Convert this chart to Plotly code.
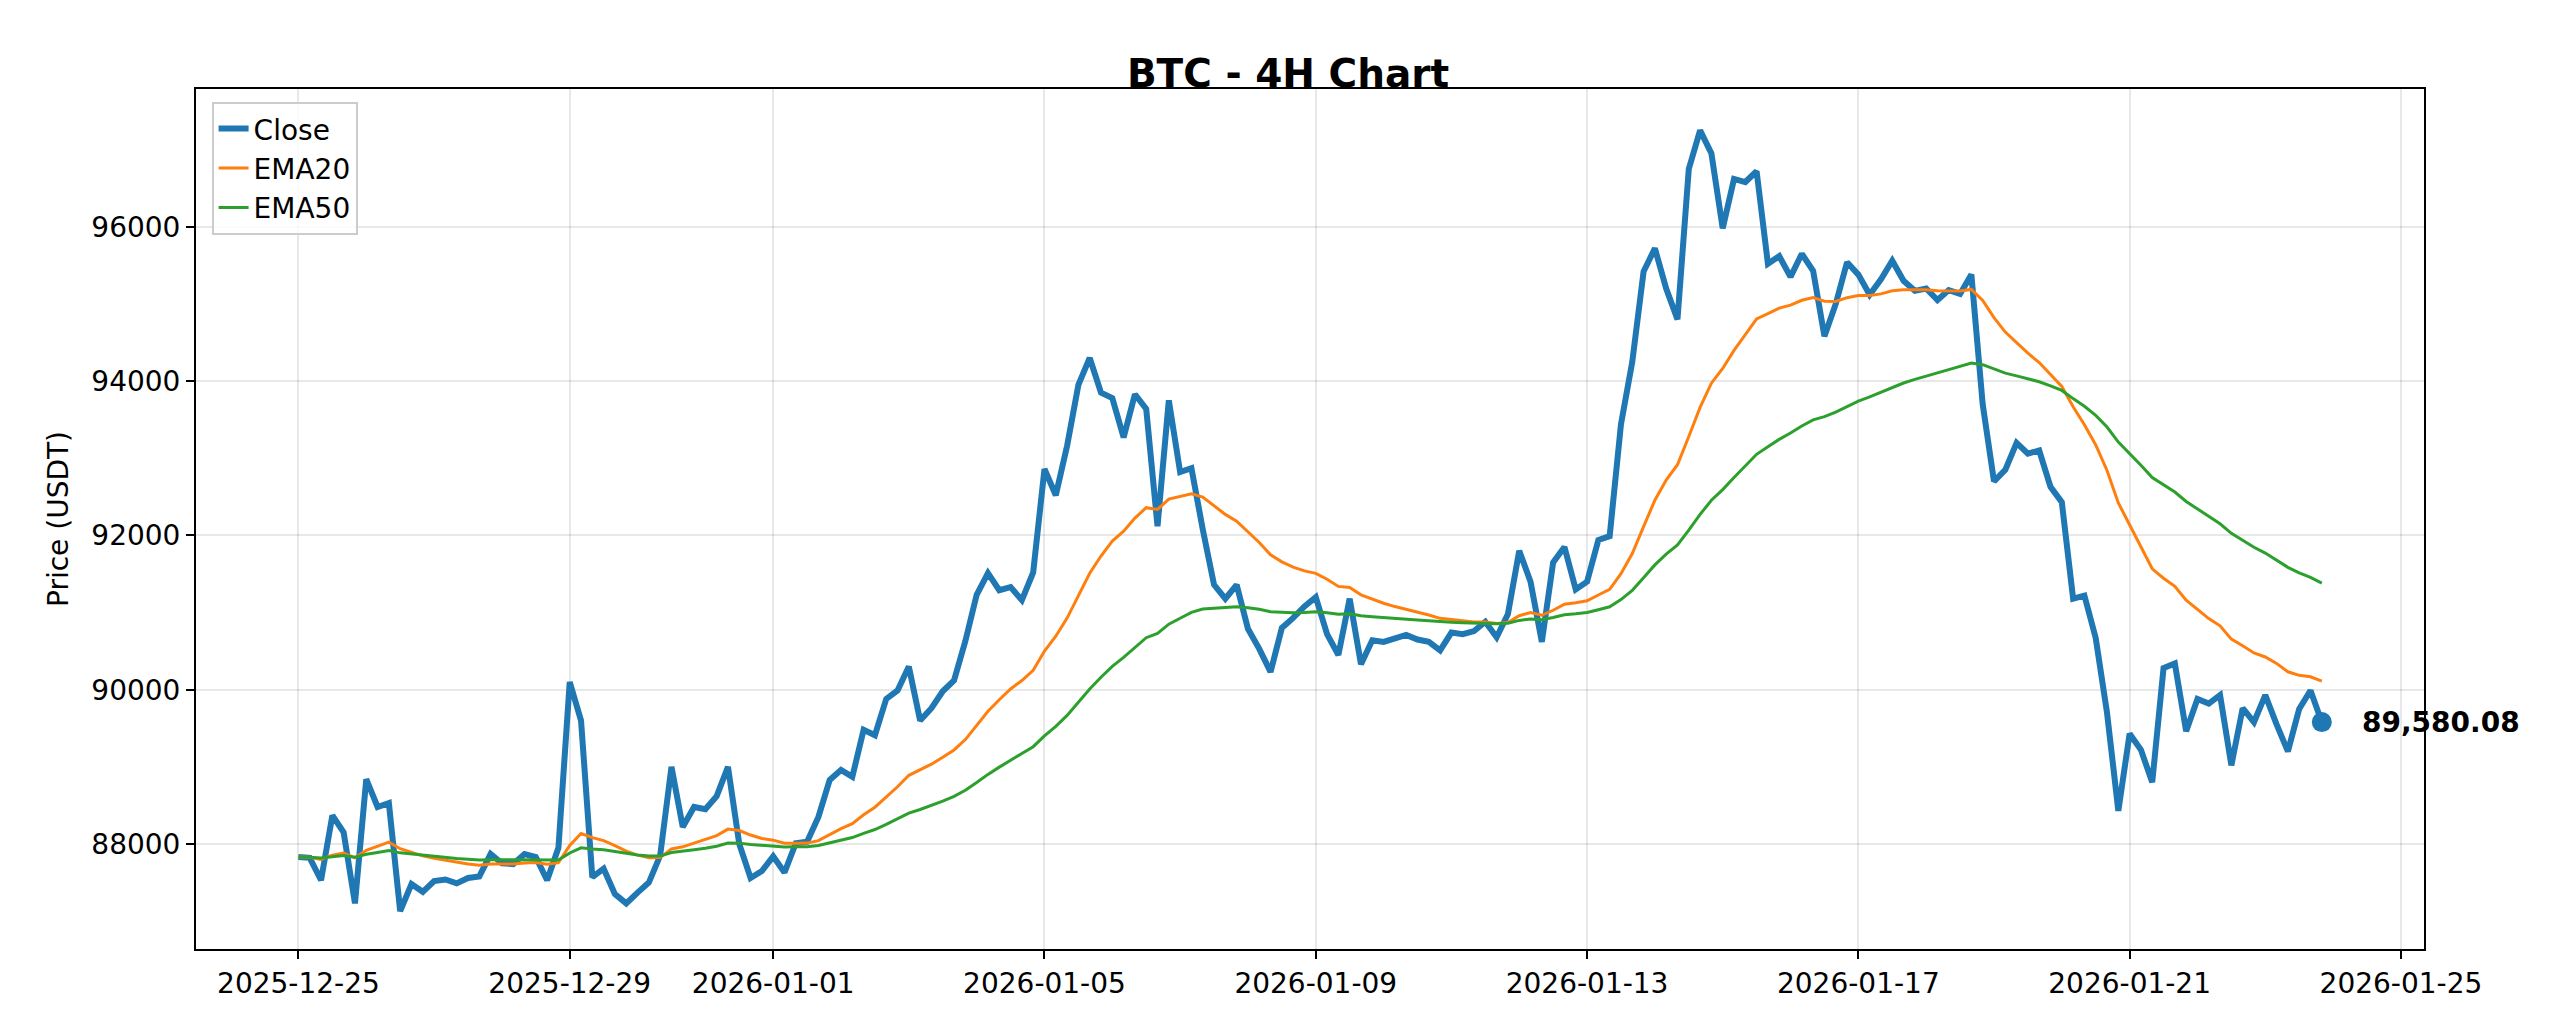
import pandas as pd
import plotly.graph_objects as go

# 4H closes, 2025-12-25 00:00 onward
close = [
    87830, 87820, 87530, 88370, 88150, 87230, 88840, 88480, 88530, 87130,
    87480, 87380, 87520, 87540, 87490, 87560, 87580, 87870, 87750, 87740,
    87870, 87830, 87530, 87950, 90100, 89600, 87570, 87680, 87350, 87230,
    87370, 87500, 87850, 89000, 88220, 88480, 88450, 88620, 89000, 88000,
    87560, 87650, 87840, 87630, 88010, 88030, 88350, 88830, 88960, 88870,
    89480, 89410, 89880, 89990, 90300, 89600, 89760, 89980, 90120, 90630,
    91230, 91510, 91290, 91330, 91160, 91520, 92860, 92520, 93160, 93950,
    94300, 93850, 93780, 93270, 93830, 93640, 92120, 93750, 92820, 92870,
    92080, 91360, 91180, 91360, 90790, 90530, 90230, 90800, 90930, 91080,
    91200, 90720, 90450, 91180, 90330, 90640, 90620, 90670, 90710, 90650,
    90620, 90510, 90740, 90720, 90760, 90880, 90680, 90980, 91800, 91400,
    90620, 91650, 91850, 91300, 91400, 91940, 91990, 93440, 94250, 95420,
    95720, 95200, 94800, 96750, 97250, 96950, 95980, 96620, 96580, 96720,
    95520, 95620, 95350, 95650, 95430, 94580, 95000, 95540, 95380, 95120,
    95320, 95560, 95300, 95170, 95200, 95050, 95180, 95130, 95380, 93700,
    92700, 92850, 93200, 93060, 93100, 92630, 92430, 91180, 91220, 90670,
    89700, 88430, 89430, 89220, 88800, 90280, 90340, 89460, 89880, 89820,
    89930, 89020, 89760, 89580, 89930, 89550, 89200, 89750, 89990, 89580.08,
]
times = pd.date_range("2025-12-25", periods=len(close), freq="4h")
tick_dates = ["2025-12-25", "2025-12-29", "2026-01-01", "2026-01-05", "2026-01-09",
              "2026-01-13", "2026-01-17", "2026-01-21", "2026-01-25"]

s = pd.Series(close)
ema20 = s.ewm(span=20, adjust=False).mean()
ema50 = s.ewm(span=50, adjust=False).mean()

fig = go.Figure()
fig.add_trace(go.Scatter(x=times, y=close, mode="lines", name="Close",
                         line=dict(color="#1f77b4", width=6)))
fig.add_trace(go.Scatter(x=times, y=ema20, mode="lines", name="EMA20",
                         line=dict(color="#ff7f0e", width=3)))
fig.add_trace(go.Scatter(x=times, y=ema50, mode="lines", name="EMA50",
                         line=dict(color="#2ca02c", width=3)))
fig.add_trace(go.Scatter(x=[times[-1]], y=[close[-1]], mode="markers", showlegend=False,
                         marker=dict(color="#1f77b4", size=20), cliponaxis=False))
fig.add_annotation(x=times[-1], y=close[-1], text=f"<b>{close[-1]:,.2f}</b>",
                   showarrow=False, xanchor="left", xshift=38,
                   font=dict(size=28, color="black"))

axis_style = dict(showline=True, linecolor="black", linewidth=2, mirror=True,
                  ticks="outside", ticklen=8, tickwidth=2, tickcolor="black",
                  showgrid=True, gridcolor="rgba(0,0,0,0.09)", gridwidth=2,
                  zeroline=False, tickfont=dict(size=28, color="black"))

fig.update_layout(
    width=2560, height=1024,
    title=dict(text="<b>BTC - 4H Chart</b>", x=0.5, xanchor="center", y=0.95,
               font=dict(size=39, color="black")),
    font=dict(family="DejaVu Sans", color="black"),
    plot_bgcolor="white", paper_bgcolor="white",
    margin=dict(l=188, r=144, t=81, b=83),
    legend=dict(x=0.007, y=0.985, xanchor="left", yanchor="top",
                bgcolor="rgba(255,255,255,0.8)", bordercolor="#cccccc", borderwidth=2,
                font=dict(size=28)),
    xaxis=dict(axis_style, range=["2025-12-23 11:45", "2026-01-25 08:10"],
               tickvals=tick_dates, tickformat="%Y-%m-%d"),
    yaxis=dict(axis_style, range=[86639, 97786], tickvals=[88000, 90000, 92000, 94000, 96000],
               tickformat="d", title=dict(text="Price (USDT)", font=dict(size=28))),
)

fig.write_html("out.html")
